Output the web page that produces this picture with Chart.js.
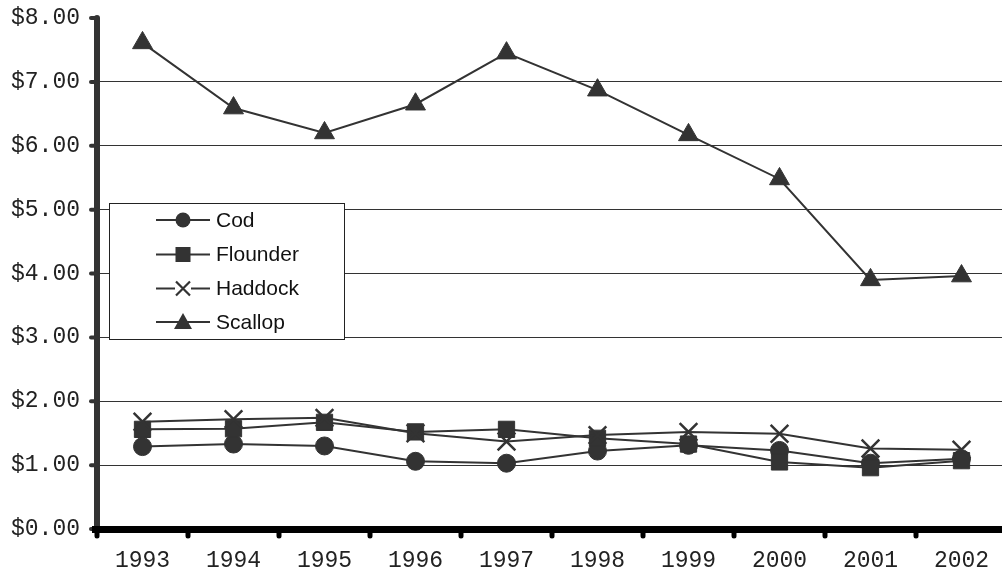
<!DOCTYPE html>
<html>
<head>
<meta charset="utf-8">
<script src="https://cdn.jsdelivr.net/npm/chart.js@4/dist/chart.umd.min.js"></script>
<style>
  html, body { margin: 0; padding: 0; background: #fff; overflow: hidden; }
  #c { position: absolute; left: 0; top: 0; }
</style>
</head>
<body>
<canvas id="c" width="1007" height="572"></canvas>
<script>
// Average price per pound, by species
const years    = ['1993', '1994', '1995', '1996', '1997', '1998', '1999', '2000', '2001', '2002'];
const cod      = [1.29, 1.33, 1.30, 1.06, 1.03, 1.22, 1.31, 1.23, 1.03, 1.10];
const flounder = [1.56, 1.57, 1.67, 1.52, 1.56, 1.42, 1.33, 1.05, 0.96, 1.07];
const haddock  = [1.68, 1.72, 1.74, 1.50, 1.37, 1.47, 1.52, 1.49, 1.26, 1.24];
const scallop  = [7.61, 6.59, 6.20, 6.65, 7.45, 6.87, 6.17, 5.48, 3.90, 3.96];
const yMin = 0, yMax = 8, yStep = 1;

const INK = '#333';
const MONO = "'Liberation Mono', 'Courier New', monospace";
const SANS = "'Liberation Sans', Arial, sans-serif";

function series(label, data, style, radius, order) {
  return {
    label, data, order,
    borderColor: INK, borderWidth: 2, tension: 0,
    pointStyle: style, pointRadius: radius, pointHoverRadius: radius,
    pointBackgroundColor: INK, pointBorderColor: INK,
    pointBorderWidth: style === 'crossRot' ? 2.5 : 1
  };
}

// Heavy axis lines with rounded tick nubs
const axisFrame = {
  id: 'axisFrame',
  afterDatasetsDraw(chart) {
    const { ctx, chartArea: a, scales: { x, y } } = chart;
    ctx.save();
    ctx.lineCap = 'round';
    // vertical axis
    ctx.strokeStyle = INK;
    ctx.lineWidth = 6;
    ctx.beginPath();
    ctx.moveTo(a.left, a.top);
    ctx.lineTo(a.left, a.bottom);
    ctx.stroke();
    ctx.lineWidth = 4;
    for (let v = yMin; v <= yMax; v += yStep) {
      const py = y.getPixelForValue(v);
      ctx.beginPath();
      ctx.moveTo(a.left - 6, py);
      ctx.lineTo(a.left, py);
      ctx.stroke();
    }
    // horizontal axis
    ctx.strokeStyle = '#000';
    ctx.lineCap = 'butt';
    ctx.lineWidth = 7;
    ctx.beginPath();
    ctx.moveTo(a.left - 5, a.bottom + 0.5);
    ctx.lineTo(a.right, a.bottom + 0.5);
    ctx.stroke();
    ctx.lineCap = 'round';
    ctx.lineWidth = 5;
    const half = (x.getPixelForValue(1) - x.getPixelForValue(0)) / 2;
    for (let i = 0; i <= years.length; i++) {
      const px = x.getPixelForValue(i) - half;
      ctx.beginPath();
      ctx.moveTo(px, a.bottom);
      ctx.lineTo(px, a.bottom + 7);
      ctx.stroke();
    }
    ctx.restore();
  }
};

// Boxed legend placed inside the plot
function legendMarker(ctx, style, cx, cy) {
  ctx.fillStyle = INK;
  ctx.strokeStyle = INK;
  ctx.beginPath();
  if (style === 'circle') {
    ctx.arc(cx, cy, 7.5, 0, Math.PI * 2);
    ctx.fill();
  } else if (style === 'rect') {
    ctx.fillRect(cx - 7.5, cy - 7.5, 15, 15);
  } else if (style === 'crossRot') {
    ctx.fillStyle = '#fff';
    ctx.fillRect(cx - 8, cy - 8, 16, 16);
    ctx.lineWidth = 2.2;
    ctx.moveTo(cx - 7, cy - 7); ctx.lineTo(cx + 7, cy + 7);
    ctx.moveTo(cx + 7, cy - 7); ctx.lineTo(cx - 7, cy + 7);
    ctx.stroke();
  } else if (style === 'triangle') {
    ctx.moveTo(cx, cy - 9);
    ctx.lineTo(cx + 9, cy + 7);
    ctx.lineTo(cx - 9, cy + 7);
    ctx.closePath();
    ctx.fill();
  }
}

const boxLegend = {
  id: 'boxLegend',
  afterDraw(chart) {
    const { ctx } = chart;
    const bx = 109.5, by = 203.5, bw = 235, bh = 136;
    ctx.save();
    ctx.fillStyle = '#fff';
    ctx.fillRect(bx, by, bw, bh);
    ctx.strokeStyle = '#222';
    ctx.lineWidth = 1;
    ctx.strokeRect(bx, by, bw, bh);
    ctx.font = '21px ' + SANS;
    ctx.textBaseline = 'middle';
    const rows = [220, 254.5, 288.5, 322];
    chart.data.datasets.forEach((ds, i) => {
      const ry = rows[i];
      ctx.strokeStyle = INK;
      ctx.lineWidth = 2;
      ctx.beginPath();
      ctx.moveTo(156, ry);
      ctx.lineTo(210, ry);
      ctx.stroke();
      legendMarker(ctx, ds.pointStyle, 183, ry);
      ctx.fillStyle = '#111';
      ctx.fillText(ds.label, 216, ry + 1);
    });
    ctx.restore();
  }
};

new Chart(document.getElementById('c'), {
  type: 'line',
  data: {
    labels: years,
    datasets: [
      series('Cod', cod, 'circle', 9, 4),
      series('Flounder', flounder, 'rect', 11.5, 3),
      series('Haddock', haddock, 'crossRot', 12.5, 2),
      series('Scallop', scallop, 'triangle', 11.5, 1)
    ]
  },
  options: {
    responsive: false,
    animation: false,
    devicePixelRatio: 1,
    layout: { autoPadding: false, padding: { top: 18, left: 0, right: 0, bottom: 0 } },
    plugins: { legend: { display: false }, tooltip: { enabled: false } },
    scales: {
      x: {
        type: 'category',
        offset: true,
        grid: { display: false, drawTicks: false },
        border: { display: false },
        ticks: { color: '#222', font: { family: MONO, size: 23 }, padding: 18, maxRotation: 0, autoSkip: false },
        afterFit(s) { s.height = 43; s.paddingLeft = 0; s.paddingRight = 0; }
      },
      y: {
        min: yMin, max: yMax,
        grid: {
          drawTicks: false,
          lineWidth: 1,
          color: c => (c.tick && (c.tick.value === yMin || c.tick.value === yMax)) ? 'rgba(0,0,0,0)' : INK
        },
        border: { display: false },
        ticks: {
          stepSize: yStep,
          color: '#222',
          padding: 17,
          font: { family: MONO, size: 23 },
          callback: v => '$' + Number(v).toFixed(2)
        },
        afterFit(s) { s.width = 97; s.paddingTop = 0; s.paddingBottom = 0; }
      }
    }
  },
  plugins: [axisFrame, boxLegend]
});
</script>
</body>
</html>
